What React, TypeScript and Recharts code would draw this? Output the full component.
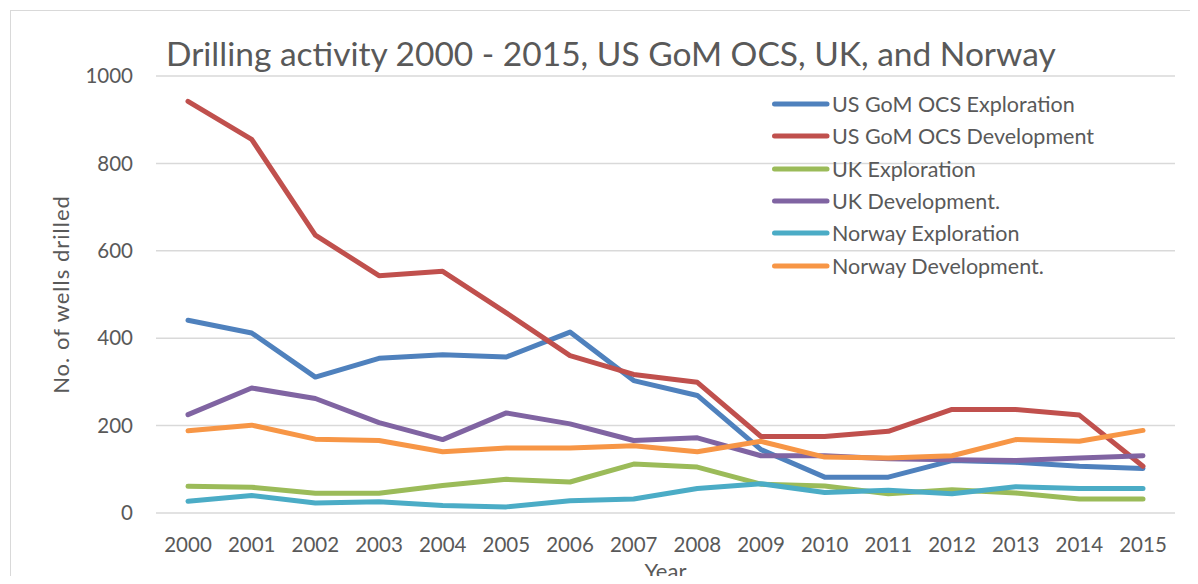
import React from 'react';
import { LineChart, Line, XAxis, YAxis, CartesianGrid, Legend, Customized } from 'recharts';

const years = ['2000','2001','2002','2003','2004','2005','2006','2007','2008','2009','2010','2011','2012','2013','2014','2015'];
const usExploration = [441,412,311,354,362,357,414,303,269,145,82,82,120,116,107,102];
const usDevelopment = [942,855,636,543,553,458,360,317,299,175,175,187,237,237,224,107];
const ukExploration = [61,59,45,45,63,77,71,112,105,66,62,44,53,46,32,32];
const ukDevelopment = [225,286,262,207,168,229,204,166,172,131,131,124,122,120,126,131];
const norwayExploration = [27,40,23,26,17,14,28,32,56,67,47,52,44,60,56,56];
const norwayDevelopment = [188,201,169,166,140,149,149,154,140,164,128,126,131,168,164,189];
const yTicks = [0,200,400,600,800,1000];

const seriesNames = ['US GoM OCS Exploration','US GoM OCS Development','UK Exploration','UK Development.','Norway Exploration','Norway Development.'];
const seriesValues = [usExploration, usDevelopment, ukExploration, ukDevelopment, norwayExploration, norwayDevelopment];
const seriesColors = ['#4F81BD','#C0504D','#9BBB59','#8064A2','#4BACC6','#F79646'];
const keys = ['s0','s1','s2','s3','s4','s5'];

const data = years.map((y, i) => {
  const row: any = { year: y };
  keys.forEach((k, j) => { row[k] = seriesValues[j][i]; });
  return row;
});

const FONT = 'Lato, "Open Sans", sans-serif';
const TEXT = '#595959';

const LegendContent = () => (
  <div style={{ fontFamily: FONT }}>
    {keys.map((k, i) => (
      <div key={k} style={{ height: 32.3, display: 'flex', alignItems: 'center' }}>
        <svg width={60} height={10} style={{ display: 'block' }}>
          <line x1={2.5} y1={5} x2={55} y2={5} stroke={seriesColors[i]} strokeWidth={5} strokeLinecap="round" />
        </svg>
        <span style={{ fontSize: 21.5, color: TEXT, whiteSpace: 'nowrap' }}>{seriesNames[i]}</span>
      </div>
    ))}
  </div>
);

const Title = () => (
  <text x={158} y={58} fontFamily={FONT} fontSize={33.5} fill={TEXT}>
    Drilling activity 2000 - 2015, US GoM OCS, UK, and Norway
  </text>
);

export default function App() {
  return (
    <div style={{ position: 'relative', width: 1190, height: 576, marginBottom: -8 }}>
      <div style={{ position: 'absolute', left: 2, top: 2, right: 0, bottom: 0, borderLeft: '1.5px solid #D9D9D9', borderTop: '1.5px solid #D9D9D9' }} />
      <div style={{ position: 'absolute', left: 0, top: 0 }}>
        <LineChart width={1190} height={576} data={data} margin={{ top: 68, right: 23, left: 0, bottom: 0 }}>
          <CartesianGrid vertical={false} stroke="#D9D9D9" strokeWidth={1.5} />
          <XAxis
            dataKey="year"
            height={71}
            tickLine={false}
            axisLine={false}
            tickSize={0}
            tickMargin={24}
            padding={{ left: 32, right: 32 }}
            tick={{ fill: TEXT, fontSize: 20.5, fontFamily: FONT }}
            interval={0}
            label={{
              content: (props: any) => {
                const vb = props.viewBox;
                return (
                  <text x={vb.x + vb.width / 2} y={571} textAnchor="middle" fontFamily={FONT} fontSize={22} fill={TEXT}>Year</text>
                );
              },
            }}
          />
          <YAxis
            width={148}
            domain={[0, 1000]}
            ticks={yTicks}
            tickLine={false}
            axisLine={false}
            tickSize={0}
            tickMargin={23}
            tick={{ fill: TEXT, fontSize: 20.5, fontFamily: FONT }}
            label={{
              content: (props: any) => {
                const vb = props.viewBox;
                const cx = 61;
                const cy = vb.y + vb.height / 2;
                return (
                  <text x={cx} y={cy} textAnchor="middle" transform={`rotate(-90 ${cx} ${cy})`} fontFamily={FONT} fontSize={22} letterSpacing={1} fill={TEXT}>No. of wells drilled</text>
                );
              },
            }}
          />
          <Customized component={Title} />
          {keys.map((k, i) => (
            <Line
              key={k}
              dataKey={k}
              name={seriesNames[i]}
              stroke={seriesColors[i]}
              strokeWidth={5}
              strokeLinecap="round"
              strokeLinejoin="round"
              dot={false}
              activeDot={false}
              isAnimationActive={false}
            />
          ))}
          <Legend
            layout="vertical"
            verticalAlign="middle"
            align="center"
            content={<LegendContent />}
            wrapperStyle={{ position: 'absolute', left: 764, top: 80, width: 400 }}
          />
        </LineChart>
      </div>
    </div>
  );
}
